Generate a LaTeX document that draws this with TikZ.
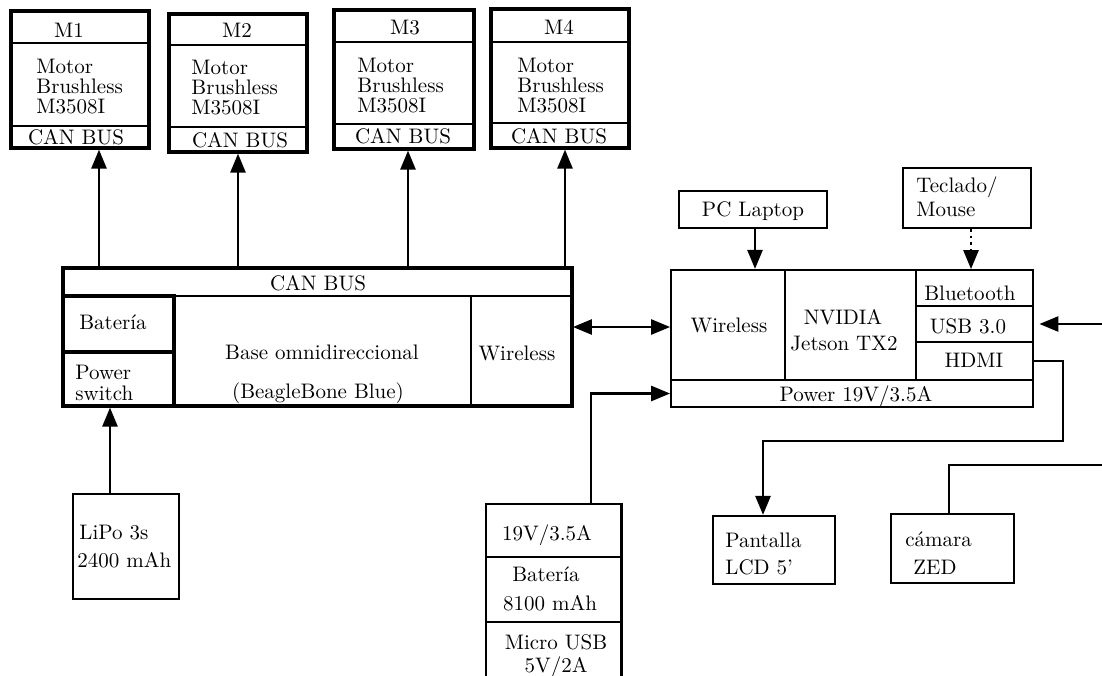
\documentclass[tikz,border=0pt]{standalone}
\usepackage{fontspec}
\usetikzlibrary{arrows.meta,fit,calc}
\begin{document}
\begin{tikzpicture}[x=0.5pt,y=-0.5pt,
  heavybox/.style={draw, line width=1.6pt, inner sep=0pt},
  plainbox/.style={draw, line width=1.1pt, inner sep=0pt},
  cellbox/.style={draw, line width=0.9pt, inner sep=0pt},
  ghostbox/.style={inner sep=0pt},
  divider/.style={line width=0.8pt},
  lbl/.style={inner sep=0pt, text height=7pt, text depth=0pt, font=\fontsize{10.5}{12}\selectfont},
  lblw/.style={lbl, anchor=west},
  arr/.style={line width=1.3pt, -{Triangle[length=9.5pt,width=7.5pt]}},
  biarr/.style={line width=1.3pt, {Triangle[length=9.5pt,width=7.5pt]}-{Triangle[length=9.5pt,width=7.5pt]}},
  link/.style={line width=1.3pt}
]
\useasboundingbox (0,0) rectangle (1102,675);

% ---------- motors ----------
\node[heavybox, fit={(11,11) (149,148)}] (m1) {};
\draw[divider] (m1.west |- 0,43) -- (m1.east |- 0,43);
\draw[divider] (m1.west |- 0,126) -- (m1.east |- 0,126);
\node[lbl] (m1t) at (69,30) {M1};
\node[lblw] (m1a) at (36,66) {Motor};
\node[lblw] (m1b) at (36,86) {Brushless};
\node[lblw] (m1c) at (36,106) {M3508I};
\node[lbl] (m1d) at (76,137) {CAN BUS};

\node[heavybox, fit={(169,14) (307,152)}] (m2) {};
\draw[divider] (m2.west |- 0,45) -- (m2.east |- 0,45);
\draw[divider] (m2.west |- 0,127) -- (m2.east |- 0,127);
\node[lbl] (m2t) at (237,30) {M2};
\node[lblw] (m2a) at (191,67) {Motor};
\node[lblw] (m2b) at (191,87) {Brushless};
\node[lblw] (m2c) at (191,107) {M3508I};
\node[lbl] (m2d) at (240,140) {CAN BUS};

\node[heavybox, fit={(334,10) (474,149)}] (m3) {};
\draw[divider] (m3.west |- 0,42) -- (m3.east |- 0,42);
\draw[divider] (m3.west |- 0,124) -- (m3.east |- 0,124);
\node[lbl] (m3t) at (405,27) {M3};
\node[lblw] (m3a) at (357,65) {Motor};
\node[lblw] (m3b) at (357,85) {Brushless};
\node[lblw] (m3c) at (357,105) {M3508I};
\node[lbl] (m3d) at (403,136) {CAN BUS};

\node[heavybox, fit={(491,9) (629,148)}] (m4) {};
\draw[divider] (m4.west |- 0,42) -- (m4.east |- 0,42);
\draw[divider] (m4.west |- 0,123) -- (m4.east |- 0,123);
\node[lbl] (m4t) at (559,27) {M4};
\node[lblw] (m4a) at (517,65) {Motor};
\node[lblw] (m4b) at (517,85) {Brushless};
\node[lblw] (m4c) at (517,105) {M3508I};
\node[lbl] (m4d) at (559,136) {CAN BUS};

% ---------- omnidirectional base ----------
\node[heavybox, fit={(63,268) (572,406)}] (base) {};
\node[plainbox, fit={(63,268) (572,296)}] (bcan) {};
\node[heavybox, fit={(63,296) (174,352)}] (bbat) {};
\node[heavybox, fit={(63,352) (174,406)}] (bpsw) {};
\node[cellbox, fit={(471,296) (572,406)}] (bwl) {};
\node[lbl] (bcant) at (318,283) {CAN BUS};
\node[lbl] (bbatt) at (113,322) {Batería};
\node[lblw] (bpswa) at (75,372) {Power};
\node[lblw] (bpswb) at (75,393) {switch};
\node[lbl] (bname) at (322,352) {Base omnidireccional};
\node[lbl] (bboard) at (318,391) {(BeagleBone Blue)};
\node[lbl] (bwlt) at (517,353) {Wireless};

% ---------- Jetson ----------
\node[plainbox, fit={(671,270) (1033,407)}] (jet) {};
\node[cellbox, fit={(671,380) (1033,407)}] (jpow) {};
\node[cellbox, fit={(671,270) (785,380)}] (jwl) {};
\node[cellbox, fit={(785,270) (916,380)}] (jnv) {};
\node[cellbox, fit={(916,270) (1033,306)}] (jbt) {};
\node[cellbox, fit={(916,342) (1033,380)}] (jhd) {};
\node[plainbox, line width=1.4pt, fit={(916,306) (1033,342)}] (jusb) {};
\node[lbl] (jwlt) at (729,325) {Wireless};
\node[lbl] (jnva) at (843,317) {NVIDIA};
\node[lbl] (jnvb) at (844,343) {Jetson TX2};
\node[lbl] (jbtt) at (970,293) {Bluetooth};
\node[lbl] (jusbt) at (968,326) {USB 3.0};
\node[lbl] (jhdt) at (974,360) {HDMI};
\node[lbl] (jpowt) at (856,394) {Power 19V/3.5A};

% ---------- peripherals ----------
\node[plainbox, fit={(679,191) (827,228)}] (pc) {};
\node[lbl] (pct) at (753,209) {PC Laptop};
\node[plainbox, fit={(903,168) (1031,228)}] (kb) {};
\node[lblw] (kba) at (916,185) {Teclado/};
\node[lblw] (kbb) at (916,209) {Mouse};

\node[plainbox, fit={(73,494) (179,599)}] (lipo) {};
\node[lblw] (lipoa) at (79,532) {LiPo 3s};
\node[lblw] (lipob) at (77,560) {2400 mAh};

\node[plainbox, fit={(713,516) (835,584)}] (lcd) {};
\node[lblw] (lcda) at (725,540) {Pantalla};
\node[lblw] (lcdb) at (725,567) {LCD 5'};

\node[plainbox, fit={(891,514) (1014,583)}] (cam) {};
\node[lblw] (cama) at (905,539) {cámara};
\node[lblw] (camb) at (913,567) {ZED};

% power bank, open at the bottom
\node[ghostbox, fit={(486,504) (621,677)}] (pb) {};
\draw[line width=1.1pt] (pb.south west) -- (pb.north west) -- (pb.north east) -- (pb.south east);
\draw[line width=1.1pt] (pb.west |- 0,557) -- (pb.east |- 0,557);
\draw[line width=1.1pt] (pb.west |- 0,622) -- (pb.east |- 0,622);
\node[lbl] (pba) at (547,533) {19V/3.5A};
\node[lbl] (pbb) at (546,574) {Batería};
\node[lbl] (pbc) at (550,603) {8100 mAh};
\node[lbl] (pbd) at (556,642) {Micro USB};
\node[lbl] (pbe) at (556,665) {5V/2A};

% ---------- connectors ----------
\draw[arr] (bcan.north -| 99,0) -- (m1.south -| 99,0);
\draw[arr] (bcan.north -| 238,0) -- (m2.south -| 238,0);
\draw[arr] (bcan.north -| 408,0) -- (m3.south -| 408,0);
\draw[arr] (bcan.north -| 565,0) -- (m4.south -| 565,0);
\draw[arr] (lipo.north -| 110,0) -- (bpsw.south -| 110,0);
\draw[biarr] (bwl.east |- 0,327) -- (jwl.west |- 0,327);
\draw[arr] (pb.north -| 591,0) |- (jpow.west);
\draw[arr] (pc.south -| 755,0) -- (jet.north -| 755,0);
\draw[arr, dotted] (kb.south -| 971,0) -- (jbt.north -| 971,0);
\coordinate (usbin) at (1102,324);
\draw[arr, shorten >=2.5pt] (usbin) -- (jusb.east);
\coordinate (hdbend) at (1063,441);
\draw[arr] (jhd.east) -| (hdbend) -| (lcd.north -| 763,0);
\coordinate (camend) at (1102,465);
\draw[link] (cam.north -| 949,0) |- (camend);
\end{tikzpicture}
\end{document}
